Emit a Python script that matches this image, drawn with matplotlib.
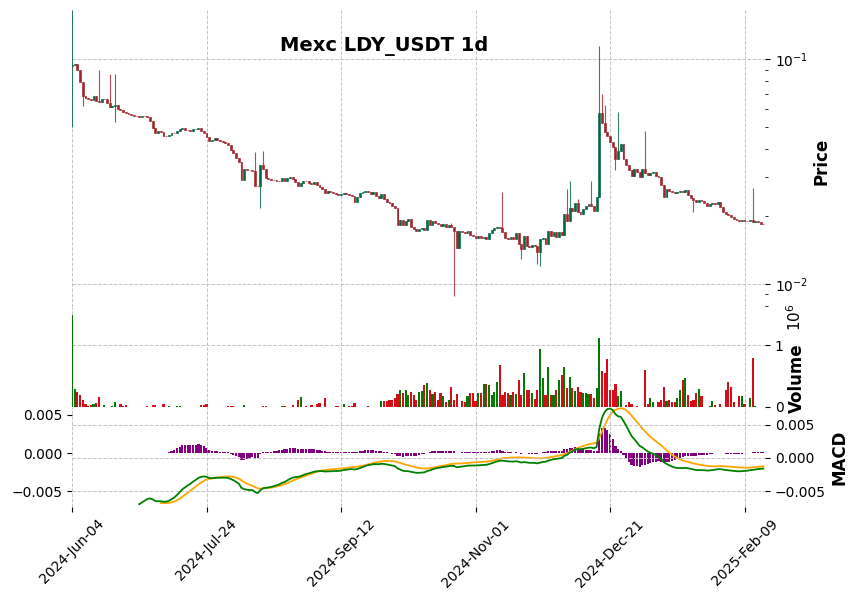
import numpy as np
import pandas as pd
import matplotlib
matplotlib.use('Agg')
import matplotlib.pyplot as plt

# daily closes (USDT)
close = np.array([
    0.0940, 0.0950, 0.0894, 0.0790, 0.0685, 0.0671, 0.0664, 0.0657, 0.0685, 0.0651,
    0.0644, 0.0664, 0.0668, 0.0640, 0.0612, 0.0618, 0.0624, 0.0600, 0.0593, 0.0581,
    0.0575, 0.0570, 0.0564, 0.0562, 0.0558, 0.0552, 0.0558, 0.0557, 0.0552, 0.0530,
    0.0494, 0.0469, 0.0479, 0.0474, 0.0455, 0.0454, 0.0459, 0.0469, 0.0468, 0.0479,
    0.0489, 0.0494, 0.0484, 0.0483, 0.0482, 0.0489, 0.0488, 0.0494, 0.0479, 0.0469,
    0.0450, 0.0432, 0.0437, 0.0446, 0.0437, 0.0432, 0.0428, 0.0423, 0.0415, 0.0394,
    0.0382, 0.0363, 0.0349, 0.0290, 0.0325, 0.0321, 0.0320, 0.0318, 0.0273, 0.0272,
    0.0338, 0.0325, 0.0296, 0.0293, 0.0290, 0.0289, 0.0288, 0.0287, 0.0296, 0.0287,
    0.0296, 0.0299, 0.0293, 0.0284, 0.0273, 0.0281, 0.0287, 0.0286, 0.0281, 0.0280,
    0.0284, 0.0275, 0.0270, 0.0264, 0.0254, 0.0259, 0.0256, 0.0255, 0.0251, 0.0249,
    0.0251, 0.0254, 0.0251, 0.0249, 0.0246, 0.0231, 0.0244, 0.0254, 0.0256, 0.0259,
    0.0258, 0.0251, 0.0256, 0.0246, 0.0241, 0.0251, 0.0239, 0.0231, 0.0229, 0.0222,
    0.0218, 0.0183, 0.0193, 0.0183, 0.0191, 0.0195, 0.0179, 0.0176, 0.0172, 0.0176,
    0.0177, 0.0174, 0.0193, 0.0183, 0.0191, 0.0187, 0.0185, 0.0181, 0.0185, 0.0179,
    0.0183, 0.0179, 0.0172, 0.0145, 0.0172, 0.0170, 0.0169, 0.0172, 0.0165, 0.0163,
    0.0160, 0.0163, 0.0160, 0.0162, 0.0158, 0.0169, 0.0174, 0.0177, 0.0179, 0.0177,
    0.0170, 0.0160, 0.0158, 0.0162, 0.0158, 0.0169, 0.0151, 0.0143, 0.0163, 0.0148,
    0.0146, 0.0149, 0.0148, 0.0139, 0.0158, 0.0160, 0.0151, 0.0172, 0.0163, 0.0170,
    0.0162, 0.0170, 0.0165, 0.0205, 0.0191, 0.0218, 0.0211, 0.0229, 0.0209, 0.0205,
    0.0215, 0.0222, 0.0227, 0.0222, 0.0211, 0.0244, 0.0575, 0.0519, 0.0474, 0.0455,
    0.0428, 0.0407, 0.0359, 0.0390, 0.0419, 0.0359, 0.0338, 0.0321, 0.0302, 0.0325,
    0.0315, 0.0299, 0.0325, 0.0311, 0.0305, 0.0311, 0.0315, 0.0302, 0.0299, 0.0275,
    0.0244, 0.0264, 0.0259, 0.0256, 0.0254, 0.0256, 0.0259, 0.0258, 0.0262, 0.0249,
    0.0241, 0.0236, 0.0231, 0.0236, 0.0235, 0.0229, 0.0222, 0.0227, 0.0229, 0.0228,
    0.0231, 0.0220, 0.0209, 0.0205, 0.0203, 0.0199, 0.0195, 0.0193, 0.0191, 0.0193,
    0.0191, 0.0190, 0.0193, 0.0189, 0.0191, 0.0189, 0.0185, 0.0184,
])
first_open = 0.0930

# long wicks that stick out of the bodies
wick_high = {0: 0.165, 10: 0.0894, 14: 0.0858, 16: 0.0858, 68: 0.0386, 71: 0.0390,
             141: 0.0187, 160: 0.0256, 184: 0.0264, 185: 0.0287, 188: 0.0239,
             193: 0.0287, 196: 0.1143, 197: 0.0699, 198: 0.0624, 203: 0.0581,
             213: 0.0479, 253: 0.0267}
wick_low = {0: 0.050, 4: 0.0618, 16: 0.0525, 70: 0.0218, 142: 0.00885,
            167: 0.0129, 173: 0.0123, 174: 0.0120, 202: 0.0321, 231: 0.0209}

# volume in millions
volume_m = np.array([
    1.48, 0.29, 0.24, 0.19, 0.11, 0.045, 0.01, 0.03, 0.045, 0.06,
    0.16, 0.0, 0.03, 0.005, 0.005, 0.01, 0.08, 0.0, 0.045, 0.01,
    0.03, 0.0, 0.005, 0.0, 0.0, 0.0, 0.0, 0.0, 0.01, 0.0,
    0.03, 0.03, 0.0, 0.0, 0.045, 0.0, 0.02, 0.0, 0.0, 0.015,
    0.01, 0.0, 0.005, 0.0, 0.0, 0.0, 0.0, 0.0, 0.035, 0.035,
    0.045, 0.0, 0.0, 0.0, 0.0, 0.0, 0.0, 0.0, 0.02, 0.02,
    0.01, 0.0, 0.0, 0.0, 0.03, 0.0, 0.0, 0.0, 0.0, 0.0,
    0.0, 0.02, 0.02, 0.0, 0.0, 0.0, 0.0, 0.0, 0.01, 0.01,
    0.0, 0.0, 0.03, 0.0, 0.105, 0.16, 0.0, 0.02, 0.0, 0.03,
    0.0, 0.05, 0.065, 0.0, 0.145, 0.0, 0.0, 0.0, 0.02, 0.02,
    0.0, 0.045, 0.0, 0.01, 0.01, 0.06, 0.0, 0.0, 0.0, 0.0,
    0.02, 0.005, 0.0, 0.0, 0.0, 0.09, 0.09, 0.10, 0.11, 0.12,
    0.15, 0.21, 0.27, 0.22, 0.27, 0.19, 0.24, 0.19, 0.11, 0.25,
    0.26, 0.36, 0.39, 0.27, 0.21, 0.24, 0.105, 0.22, 0.18, 0.08,
    0.11, 0.33, 0.12, 0.21, 0.0, 0.09, 0.08, 0.18, 0.22, 0.23,
    0.09, 0.23, 0.23, 0.37, 0.37, 0.36, 0.19, 0.25, 0.41, 0.68,
    0.19, 0.24, 0.22, 0.19, 0.25, 0.21, 0.43, 0.19, 0.55, 0.28,
    0.28, 0.22, 0.13, 0.28, 0.93, 0.47, 0.19, 0.65, 0.19, 0.19,
    0.28, 0.44, 0.51, 0.65, 0.30, 0.49, 0.30, 0.26, 0.33, 0.25,
    0.23, 0.22, 0.21, 0.21, 0.15, 0.31, 1.11, 0.58, 0.55, 0.78,
    0.27, 0.27, 0.37, 0.18, 0.26, 0.0, 0.04, 0.08, 0.055, 0.0,
    0.01, 0.0, 0.0, 0.59, 0.05, 0.14, 0.08, 0.0, 0.08, 0.105,
    0.33, 0.09, 0.11, 0.08, 0.08, 0.14, 0.27, 0.44, 0.47, 0.19,
    0.09, 0.105, 0.22, 0.29, 0.17, 0.0, 0.0, 0.02, 0.09, 0.03,
    0.0, 0.055, 0.0, 0.27, 0.40, 0.32, 0.08, 0.0, 0.18, 0.18,
    0.055, 0.0, 0.14, 0.79, 0.02, 0.0, 0.0, 0.0,
])

xtick_idx = [0, 50, 100, 150, 200, 250]
xtick_labels = ['2024-Jun-04', '2024-Jul-24', '2024-Sep-12',
                '2024-Nov-01', '2024-Dec-21', '2025-Feb-09']

title = 'Mexc LDY_USDT 1d'

up_col, down_col = '#006340', '#a02128'
vol_up, vol_down = '#007a00', '#d50d18'
grid_kw = dict(color='#c4c4c4', linestyle='--', linewidth=0.7)

n = len(close)
x = np.arange(n)
opn = np.concatenate([[first_open], close[:-1]])
high = np.maximum(opn, close)
low = np.minimum(opn, close)
for k, v in wick_high.items():
    high[k] = v
for k, v in wick_low.items():
    low[k] = v
is_up = close >= opn

# macd 12/26/9
s = pd.Series(close)
macd = s.ewm(span=12, adjust=False).mean() - s.ewm(span=26, adjust=False).mean()
signal = macd.ewm(span=9, adjust=False).mean()
hist = macd - signal
macd[:25] = np.nan
signal[:33] = np.nan
hist[:33] = np.nan

W, H = 859, 599
fig = plt.figure(figsize=(W / 100, H / 100), dpi=100)

def px_axes(top, bottom, left=72, right=765):
    return fig.add_axes([left / W, 1 - bottom / H, (right - left) / W, (bottom - top) / H])

ax_p = px_axes(10, 307)
ax_v = px_axes(307, 407)
ax_m = px_axes(407, 507)

xlim = (0, 257.6)

# price candles
cols = np.where(is_up, up_col, down_col)
ax_p.vlines(x, low, high, colors=cols, linewidth=0.8, alpha=0.8)
ax_p.bar(x, np.abs(close - opn), bottom=np.minimum(opn, close), width=0.7,
         color=cols, edgecolor=cols, linewidth=0.5, alpha=0.9)
ax_p.set_yscale('log')
ax_p.set_ylim(0.0079, 0.1657)

# volume
vcols = np.where(is_up, vol_up, vol_down)
ax_v.bar(x, volume_m * 1e6, width=0.8, color=vcols)
ax_v.set_ylim(0, 1.613e6)
ax_v.set_yticks([0, 1e6])
ax_v.set_yticklabels(['0', '1'])

# macd panel: macd line on the right axis, signal + histogram on the left
ax_m.plot(x, macd, color='green', linewidth=1.3)
ax_m.set_ylim(-0.0074, 0.0077)
ax_m.set_yticks([-0.005, 0.0, 0.005])
ax_h = ax_m.twinx()
ax_h.bar(x, hist, width=0.8, color='purple')
ax_h.plot(x, signal, color='orange', linewidth=1.3)
ax_h.set_ylim(-0.0071, 0.00605)
ax_h.set_yticks([-0.005, 0.0, 0.005])
ax_h.yaxis.tick_left()
ax_m.yaxis.tick_right()
ax_m.set_zorder(ax_h.get_zorder() + 1)
ax_m.patch.set_visible(False)

for ax in (ax_p, ax_v, ax_m, ax_h):
    ax.set_xlim(*xlim)
    for sp in ax.spines.values():
        sp.set_visible(False)
    ax.tick_params(labelsize=10)

for ax in (ax_p, ax_v, ax_m):
    ax.yaxis.tick_right()
    ax.set_xticks(xtick_idx)
    ax.grid(True, **grid_kw)
    ax.set_axisbelow(True)
ax_p.tick_params(axis='x', bottom=False, labelbottom=False)
ax_v.tick_params(axis='x', bottom=False, labelbottom=False)
ax_h.tick_params(axis='x', bottom=False, labelbottom=False)
ax_m.set_xticklabels(xtick_labels, rotation=45, ha='center')

fig.text(384 / W, 1 - 46 / H, title, ha='center', va='center',
         fontsize=14, fontweight='bold')
fig.text(822 / W, 1 - 161 / H, 'Price', rotation=90, ha='center', va='center',
         fontsize=12, fontweight='bold')
fig.text(797 / W, 1 - 378 / H, 'Volume', rotation=90, ha='center', va='center',
         fontsize=12, fontweight='bold')
fig.text(795 / W, 1 - 317 / H, r'$\mathregular{10^{6}}$', rotation=90,
         ha='center', va='center', fontsize=11)
fig.text(840 / W, 1 - 457 / H, 'MACD', rotation=90, ha='center', va='center',
         fontsize=12, fontweight='bold')

fig.savefig('out.png', dpi=100)
